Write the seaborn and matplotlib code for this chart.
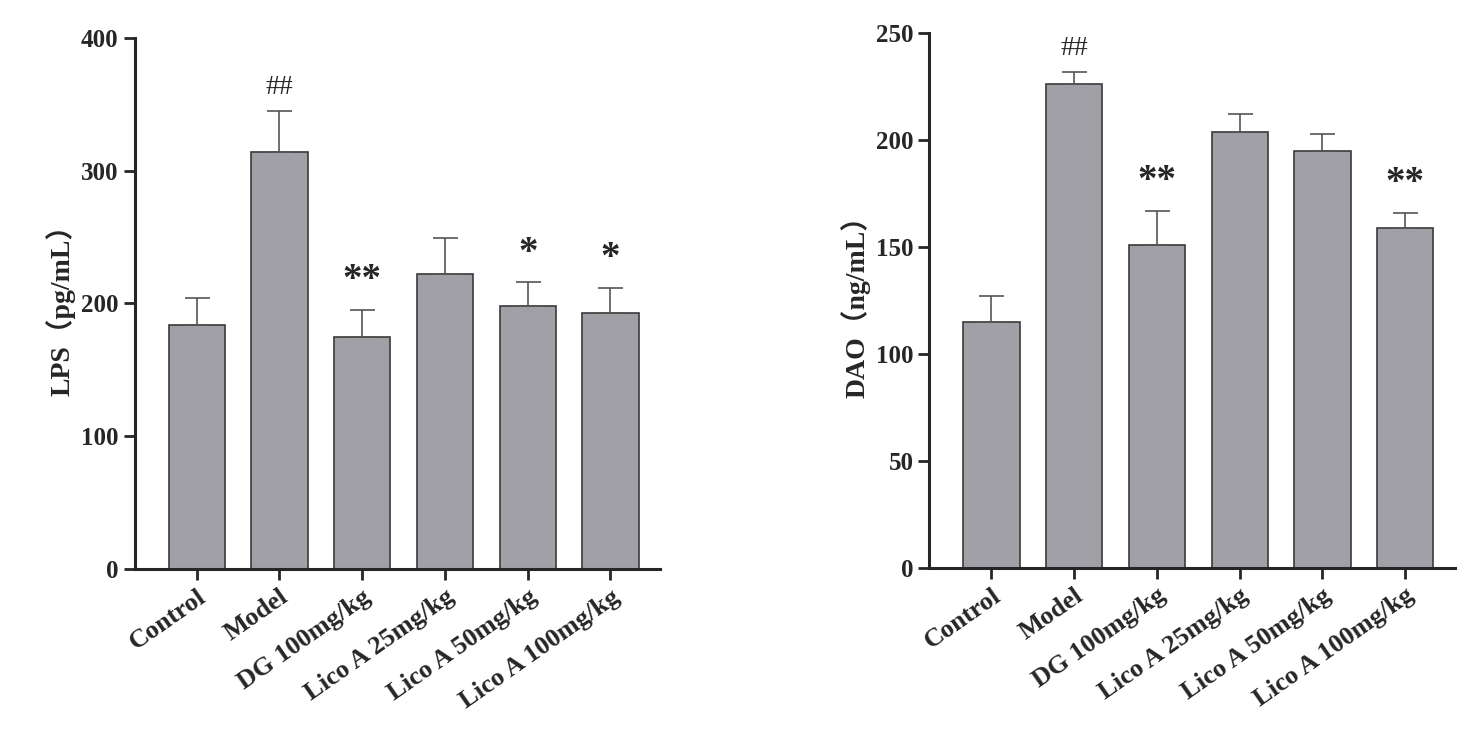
import matplotlib
matplotlib.use("Agg")
import matplotlib.pyplot as plt
import seaborn as sns
import pandas as pd
import numpy as np

sns.set_style("ticks")
plt.rcParams['font.family'] = ['Liberation Serif', 'DejaVu Serif']
plt.rcParams['font.weight'] = 'bold'

groups = ["Control", "Model", "DG 100mg/kg", "Lico A 25mg/kg", "Lico A 50mg/kg", "Lico A 100mg/kg"]
lps_mean = [184, 314, 175, 222, 198, 193]
lps_err = [20, 31, 20, 27, 18, 19]
lps_marks = ["", "##", "**", "", "*", "*"]
dao_mean = [115, 226, 151, 204, 195, 159]
dao_err = [12, 6, 16, 8, 8, 7]
dao_marks = ["", "##", "**", "", "", "**"]

fig = plt.figure(figsize=(14.8, 7.53), dpi=100)
ax1 = fig.add_axes([0.091, 0.244, 0.355, 0.706])
ax2 = fig.add_axes([0.628, 0.246, 0.355, 0.710])

def panel(ax, mean, err, marks, ylim, yticks, ylabel):
    df = pd.DataFrame({"g": groups, "v": mean})
    sns.barplot(data=df, x="g", y="v", ax=ax, color="#a0a0a6", edgecolor="#3a3a3a",
                linewidth=1.2, width=0.68, saturation=1)
    x = np.arange(len(groups))
    ax.errorbar(x, mean, yerr=[np.zeros(len(err)), err], fmt="none", ecolor="#555555",
                elinewidth=1.2, capsize=9, capthick=1.2)
    for xi, m, e, t in zip(x, mean, err, marks):
        if t:
            fs = 20 if t == "##" else 28
            ax.text(xi, m + e + ylim * 0.02, t, ha="center", va="bottom", fontsize=fs,
                    fontweight="normal" if t == "##" else "bold")
    ax.set_ylim(0, ylim)
    ax.set_xlim(-0.75, 5.6)
    ax.set_yticks(yticks)
    ax.set_xlabel("")
    ax.set_ylabel(ylabel, fontsize=20, fontweight="bold",
                  family=['Liberation Serif', 'Noto Sans CJK SC'])
    ax.set_xticks(x)
    ax.set_xticklabels(groups, rotation=35, ha="right", rotation_mode="anchor",
                       fontsize=19, fontweight="bold")
    ax.tick_params(axis="y", labelsize=18, width=2, length=8)
    ax.tick_params(axis="x", width=2, length=8)
    for lbl in ax.get_yticklabels():
        lbl.set_fontweight("bold")
    sns.despine(ax=ax)
    for s in ["left", "bottom"]:
        ax.spines[s].set_linewidth(2.2)

panel(ax1, lps_mean, lps_err, lps_marks, 400, [0, 100, 200, 300, 400], "LPS（pg/mL）")
panel(ax2, dao_mean, dao_err, dao_marks, 250, [0, 50, 100, 150, 200, 250], "DAO（ng/mL）")

fig.savefig("out.png", dpi=100)
